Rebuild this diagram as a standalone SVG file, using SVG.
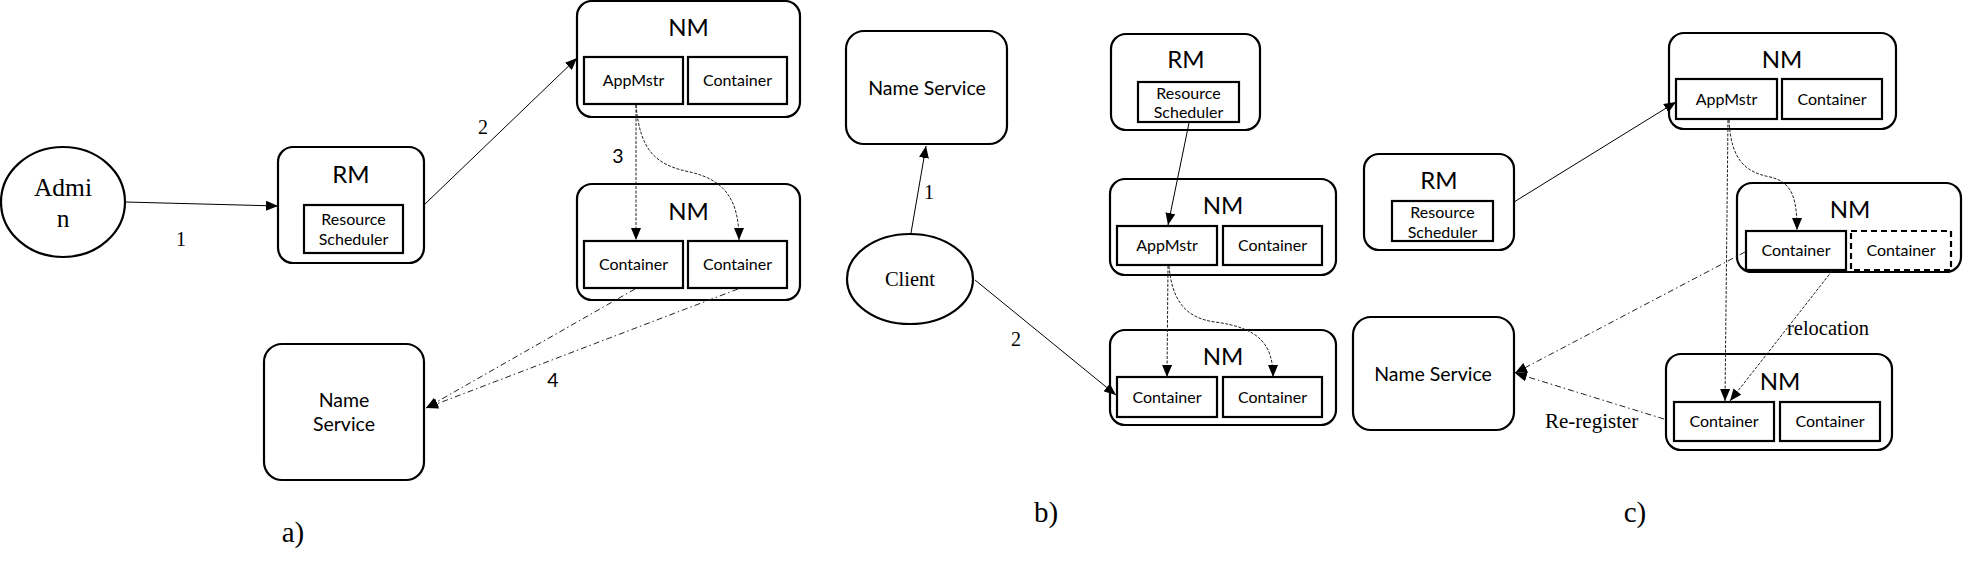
<svg xmlns="http://www.w3.org/2000/svg" width="1965" height="571" viewBox="0 0 1965 571">
<defs>
<marker id="ah" viewBox="0 0 12 10" refX="12" refY="5" markerWidth="12" markerHeight="10" markerUnits="userSpaceOnUse" orient="auto">
<path d="M0,0 L12,5 L0,10 Z" fill="#000"/>
</marker>
</defs>
<style>
.box{fill:#fff;stroke:#000;stroke-width:2.2}
.in{fill:#fff;stroke:#000;stroke-width:2.2}
.dbox{fill:#fff;stroke:#000;stroke-width:2.2;stroke-dasharray:6,4}
.t{font-family:Lato,"Noto Sans",sans-serif;text-anchor:middle;fill:#000}
.big{font-size:24px}
.mid{font-size:19.5px}
.sm{font-size:16px}
.s{font-family:"Liberation Serif",serif;fill:#000}
.c{fill:none;stroke:#000;stroke-width:1}
.dash{fill:none;stroke:#222;stroke-width:1;stroke-dasharray:3,1.5}
.dd{fill:none;stroke:#222;stroke-width:1;stroke-dasharray:6,3,1.5,3}
</style>
<rect width="1965" height="571" fill="#fff"/>

<g id="admin">
<ellipse cx="63" cy="202" rx="62" ry="55" fill="#fff" stroke="#000" stroke-width="2.2"/>
<text class="s" x="63" y="196" font-size="25.5" text-anchor="middle">Admi</text>
<text class="s" x="63" y="227" font-size="25.5" text-anchor="middle">n</text>
</g>

<g id="rm-a">
<rect class="box" x="278" y="147" width="146" height="116" rx="15"/>
<text class="t big" x="351" y="183">RM</text>
<rect class="in" x="304" y="205" width="99" height="48"/>
<text class="t sm" x="353.5" y="225">Resource</text>
<text class="t sm" x="353.5" y="245">Scheduler</text>
</g>

<g id="nm1-a">
<rect class="box" x="577" y="1" width="223" height="116" rx="15"/>
<text class="t big" x="688.5" y="36">NM</text>
<rect class="in" x="584" y="57" width="99" height="47"/>
<text class="t sm" x="633.5" y="86">AppMstr</text>
<rect class="in" x="688" y="57" width="99" height="47"/>
<text class="t sm" x="737.5" y="86">Container</text>
</g>

<g id="nm2-a">
<rect class="box" x="577" y="184" width="223" height="116" rx="15"/>
<text class="t big" x="688.5" y="220">NM</text>
<rect class="in" x="584" y="241" width="99" height="47"/>
<text class="t sm" x="633.5" y="270">Container</text>
<rect class="in" x="688" y="241" width="99" height="47"/>
<text class="t sm" x="737.5" y="270">Container</text>
</g>

<g id="ns-a">
<rect class="box" x="264" y="344" width="160" height="136" rx="18"/>
<text class="t mid" x="344" y="407">Name</text>
<text class="t mid" x="344" y="431">Service</text>
</g>

<g id="ns-b">
<rect class="box" x="846" y="31" width="161" height="113" rx="18"/>
<text class="t mid" x="927" y="95">Name Service</text>
</g>

<g id="client">
<ellipse cx="910" cy="279" rx="63" ry="45" fill="#fff" stroke="#000" stroke-width="2.2"/>
<text class="s" x="910" y="286" font-size="20.5" text-anchor="middle">Client</text>
</g>

<g id="rm-b">
<rect class="box" x="1111" y="34" width="149" height="96" rx="15"/>
<text class="t big" x="1186" y="68">RM</text>
<rect class="in" x="1138" y="82" width="101" height="40"/>
<text class="t sm" x="1188.5" y="99">Resource</text>
<text class="t sm" x="1188.5" y="118">Scheduler</text>
</g>

<g id="nm1-b">
<rect class="box" x="1110" y="179" width="226" height="96" rx="15"/>
<text class="t big" x="1223" y="214">NM</text>
<rect class="in" x="1117" y="226" width="100" height="39"/>
<text class="t sm" x="1167" y="251">AppMstr</text>
<rect class="in" x="1223" y="226" width="99" height="39"/>
<text class="t sm" x="1272.5" y="251">Container</text>
</g>

<g id="nm2-b">
<rect class="box" x="1110" y="330" width="226" height="95" rx="15"/>
<text class="t big" x="1223" y="365">NM</text>
<rect class="in" x="1117" y="377" width="100" height="40"/>
<text class="t sm" x="1167" y="403">Container</text>
<rect class="in" x="1223" y="377" width="99" height="40"/>
<text class="t sm" x="1272.5" y="403">Container</text>
</g>

<g id="rm-c">
<rect class="box" x="1364" y="154" width="150" height="96" rx="15"/>
<text class="t big" x="1439" y="189">RM</text>
<rect class="in" x="1392" y="201" width="101" height="40"/>
<text class="t sm" x="1442.5" y="218">Resource</text>
<text class="t sm" x="1442.5" y="238">Scheduler</text>
</g>

<g id="nm1-c">
<rect class="box" x="1669" y="33" width="227" height="96" rx="15"/>
<text class="t big" x="1782" y="68">NM</text>
<rect class="in" x="1676" y="79" width="101" height="40"/>
<text class="t sm" x="1726.5" y="105">AppMstr</text>
<rect class="in" x="1782" y="79" width="100" height="40"/>
<text class="t sm" x="1832" y="105">Container</text>
</g>

<g id="nm2-c">
<rect class="box" x="1737" y="183" width="224" height="89" rx="15"/>
<text class="t big" x="1850" y="218">NM</text>
<rect class="in" x="1746" y="231" width="100" height="39"/>
<text class="t sm" x="1796" y="256">Container</text>
<rect class="dbox" x="1851" y="231" width="100" height="39"/>
<text class="t sm" x="1901" y="256">Container</text>
</g>

<g id="nm3-c">
<rect class="box" x="1666" y="354" width="226" height="96" rx="15"/>
<text class="t big" x="1780" y="390">NM</text>
<rect class="in" x="1674" y="402" width="100" height="39"/>
<text class="t sm" x="1724" y="427">Container</text>
<rect class="in" x="1780" y="402" width="100" height="39"/>
<text class="t sm" x="1830" y="427">Container</text>
</g>

<g id="ns-c">
<rect class="box" x="1353" y="317" width="161" height="113" rx="18"/>
<text class="t mid" x="1433" y="381">Name Service</text>
</g>

<g id="connectors">
<line class="c" x1="125" y1="202" x2="278" y2="206" marker-end="url(#ah)"/>
<line class="c" x1="425" y1="204" x2="577" y2="58" marker-end="url(#ah)"/>
<line class="dash" x1="636" y1="105" x2="636" y2="240" marker-end="url(#ah)"/>
<path class="dash" d="M636,105 C640,150 655,165 690,172 C725,180 739,200 739,240" marker-end="url(#ah)"/>
<line class="dd" x1="635" y1="289" x2="426" y2="408" marker-end="url(#ah)"/>
<line class="dd" x1="738" y1="289" x2="426" y2="408" marker-end="url(#ah)"/>

<line class="c" x1="911" y1="233" x2="926" y2="146" marker-end="url(#ah)"/>
<line class="c" x1="975" y1="280" x2="1116" y2="395" marker-end="url(#ah)"/>
<line class="c" x1="1189" y1="123" x2="1168" y2="225" marker-end="url(#ah)"/>
<line class="dash" x1="1168" y1="266" x2="1167" y2="377" marker-end="url(#ah)"/>
<path class="dash" d="M1169,266 C1172,300 1185,318 1215,322 C1260,328 1273,345 1273,377" marker-end="url(#ah)"/>

<line class="c" x1="1514" y1="202" x2="1676" y2="102" marker-end="url(#ah)"/>
<line class="dash" x1="1728" y1="120" x2="1725" y2="401" marker-end="url(#ah)"/>
<path class="dash" d="M1729,120 C1731,160 1745,172 1770,177 C1793,182 1797,200 1797,230" marker-end="url(#ah)"/>
<line class="dash" x1="1832" y1="271" x2="1730" y2="401" marker-end="url(#ah)"/>
<line class="dd" x1="1745" y1="252" x2="1515" y2="373" marker-end="url(#ah)"/>
<line class="dd" x1="1664" y1="419" x2="1515" y2="373" marker-end="url(#ah)"/>
</g>

<g id="labels">
<text class="s" x="181" y="246" font-size="20" text-anchor="middle">1</text>
<text class="s" x="483" y="134" font-size="20" text-anchor="middle">2</text>
<text class="t mid" x="618" y="163">3</text>
<text class="t mid" x="553" y="387">4</text>
<text class="s" x="293" y="542" font-size="29" text-anchor="middle">a)</text>
<text class="s" x="929" y="199" font-size="20" text-anchor="middle">1</text>
<text class="s" x="1016" y="346" font-size="20" text-anchor="middle">2</text>
<text class="s" x="1046" y="522" font-size="29" text-anchor="middle">b)</text>
<text class="s" x="1787" y="335" font-size="20.5">relocation</text>
<text class="s" x="1545" y="428" font-size="21">Re-register</text>
<text class="s" x="1635" y="522" font-size="29" text-anchor="middle">c)</text>
</g>
</svg>
